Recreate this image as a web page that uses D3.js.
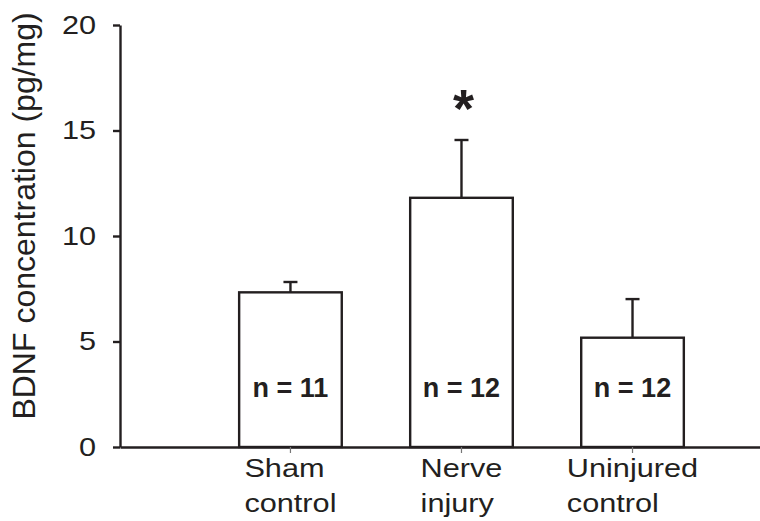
<!DOCTYPE html>
<meta charset="utf-8" />
<title>BDNF concentration</title>
<script src="https://cdn.jsdelivr.net/npm/d3@7"></script>

<style>
  body {
    margin: 0;
    padding: 0;
    background: #fff;
    font-family: "Liberation Sans", Arial, Helvetica, sans-serif;
  }

  .bar {
    fill: #fff;
    stroke: #231f20;
    stroke-width: 2.4;
  }

  .err {
    stroke: #231f20;
    stroke-width: 2.4;
    fill: none;
  }

  .axis path,
  .axis line {
    stroke: #231f20;
    stroke-width: 2.4;
  }

  .axis text {
    fill: #231f20;
    font-family: "Liberation Sans", Arial, Helvetica, sans-serif;
  }
</style>

<body>
  <div id="chart"></div>
</body>

<script>
  // values
  var groups = ["sham", "nerve", "uninjured"];
  var groupLabels = [["Sham", "control"], ["Nerve", "injury"], ["Uninjured", "control"]];
  var means = [7.33, 11.81, 5.18];
  var sems = [0.49, 2.74, 1.83];
  var nLabels = ["n = 11", "n = 12", "n = 12"];
  var marks = ["", "*", ""];
  var yTicks = [0, 5, 10, 15, 20];

  var W = 760, H = 521;
  var stretch = 1.18; // the original lettering is set a little wide

  var svg = d3.select("#chart").append("svg")
    .attr("width", W)
    .attr("height", H);

  var x = d3.scaleBand()
    .domain(groups)
    .range([120, 760])
    .paddingInner(0.4)
    .paddingOuter(0.571)
    .align(0.61);

  var y = d3.scaleLinear()
    .domain([0, 20])
    .range([447, 25]);

  var data = groups.map(function (g, i) {
    return { key: g, mean: means[i], sem: sems[i], n: nLabels[i], mark: marks[i], label: groupLabels[i] };
  });

  // error bars
  var eb = svg.append("g").selectAll("g")
    .data(data)
    .enter().append("g");

  eb.append("line")
    .attr("class", "err")
    .attr("x1", function (d) { return x(d.key) + x.bandwidth() / 2; })
    .attr("x2", function (d) { return x(d.key) + x.bandwidth() / 2; })
    .attr("y1", function (d) { return y(d.mean); })
    .attr("y2", function (d) { return y(d.mean + d.sem); });

  eb.append("line")
    .attr("class", "err")
    .attr("x1", function (d) { return x(d.key) + x.bandwidth() / 2 - 7; })
    .attr("x2", function (d) { return x(d.key) + x.bandwidth() / 2 + 7; })
    .attr("y1", function (d) { return y(d.mean + d.sem); })
    .attr("y2", function (d) { return y(d.mean + d.sem); });

  // bars
  svg.append("g").selectAll("rect")
    .data(data)
    .enter().append("rect")
    .attr("class", "bar")
    .attr("x", function (d) { return x(d.key); })
    .attr("width", x.bandwidth())
    .attr("y", function (d) { return y(d.mean); })
    .attr("height", function (d) { return y(0) - y(d.mean); });

  // n labels inside bars
  svg.append("g").selectAll("text")
    .data(data)
    .enter().append("text")
    .attr("x", function (d) { return x(d.key) + x.bandwidth() / 2; })
    .attr("y", y(2.37))
    .attr("text-anchor", "middle")
    .style("font-size", "27px")
    .style("font-weight", "bold")
    .style("fill", "#231f20")
    .text(function (d) { return d.n; });

  // significance star
  svg.append("g").selectAll("text")
    .data(data.filter(function (d) { return d.mark; }))
    .enter().append("text")
    .attr("x", function (d) { return x(d.key) + x.bandwidth() / 2 + 2; })
    .attr("y", function (d) { return y(d.mean + d.sem) - 13; })
    .attr("text-anchor", "middle")
    .style("font-size", "54px")
    .style("font-weight", "bold")
    .style("fill", "#231f20")
    .text(function (d) { return d.mark; });

  // y axis
  var yAxis = svg.append("g")
    .attr("class", "axis")
    .attr("transform", "translate(120,0)")
    .call(d3.axisLeft(y).tickValues(yTicks).tickSize(7).tickSizeOuter(0));
  yAxis.selectAll("text")
    .style("font-size", "26px")
    .attr("x", -24 / stretch)
    .attr("transform", "scale(" + stretch + ",1)");

  // x axis
  var xAxis = svg.append("g")
    .attr("class", "axis")
    .attr("transform", "translate(0," + y(0) + ")")
    .call(d3.axisBottom(x).tickSize(6).tickSizeOuter(0).tickFormat(""));
  xAxis.selectAll(".tick line").style("stroke", "#777").style("stroke-width", 1.2);

  // category labels, lines left-aligned and block centred under bar
  var lab = svg.append("g").selectAll("g")
    .data(data)
    .enter().append("g");

  lab.each(function (d) {
    var g = d3.select(this);
    var t = g.append("text")
      .style("font-size", "26px")
      .style("fill", "#231f20");
    d.label.forEach(function (s, i) {
      t.append("tspan")
        .attr("x", 0)
        .attr("dy", i === 0 ? 0 : 35)
        .text(s);
    });
    var w = t.node().getBBox().width * stretch;
    var cx = x(d.key) + x.bandwidth() / 2;
    g.attr("transform", "translate(" + (cx - w / 2) + "," + (y(0) + 30) + ") scale(" + stretch + ",1)");
  });

  // y axis title
  svg.append("text")
    .attr("transform", "translate(35," + y(10.95) + ") rotate(-90)")
    .attr("text-anchor", "middle")
    .style("font-size", "32px")
    .style("fill", "#231f20")
    .text("BDNF concentration (pg/mg)");
</script>
